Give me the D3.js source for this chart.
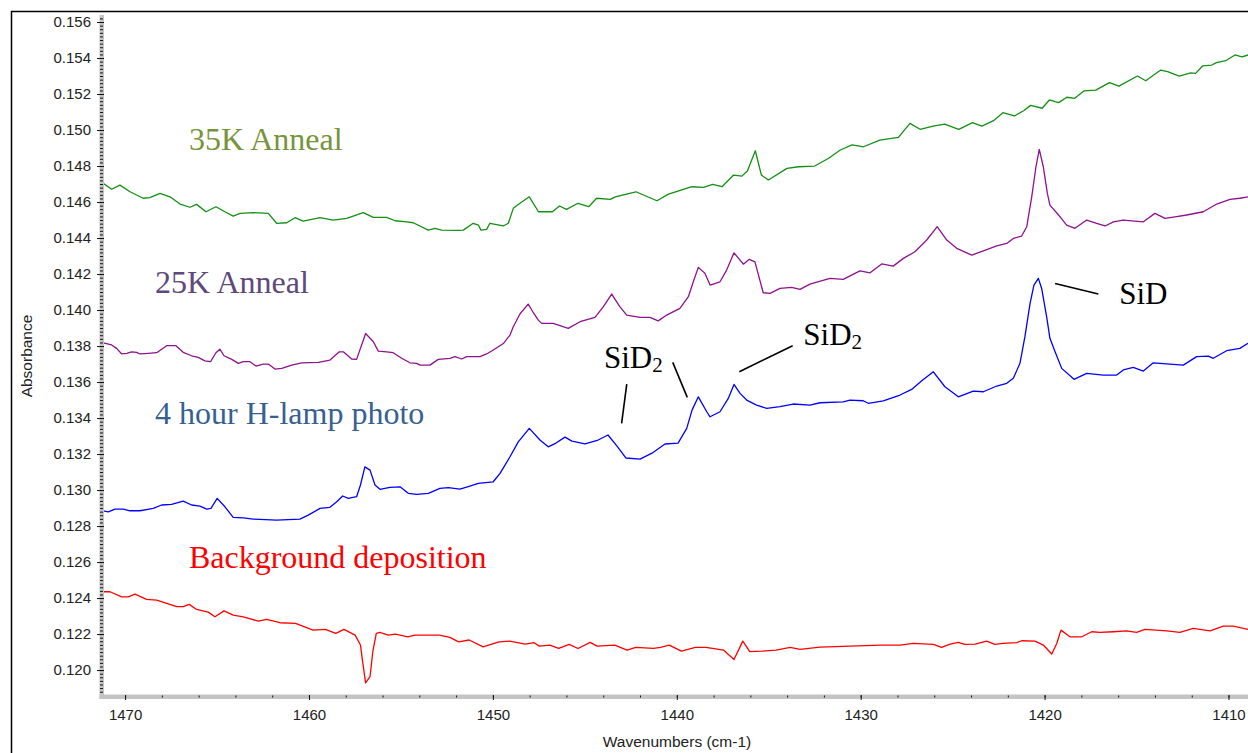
<!DOCTYPE html>
<html>
<head>
<meta charset="utf-8">
<script src="https://cdn.jsdelivr.net/npm/d3@7"></script>
<style>
  body { margin: 0; background: #fff; }
  svg { display: block; }
</style>
</head>
<body>
<div class="spectrum"></div>
<script>
// spectra: [wavenumber (cm-1), absorbance]
const anneal35K = [
  [1471.19,0.14704],[1470.73,0.14671],[1470.28,0.14694],[1469.73,0.14657],[1469.01,0.14621],[1468.65,0.14624],
  [1468.10,0.14648],[1467.56,0.14629],[1467.01,0.14589],[1466.47,0.14571],[1466.11,0.14587],[1465.60,0.14546],
  [1465.06,0.14574],[1464.57,0.14546],[1464.12,0.14522],[1463.75,0.14537],[1463.03,0.14541],[1462.21,0.14537],
  [1461.76,0.14482],[1461.21,0.14485],[1460.76,0.14513],[1460.31,0.14494],[1459.40,0.14513],[1458.68,0.14500],
  [1457.95,0.14509],[1457.05,0.14541],[1456.50,0.14515],[1455.78,0.14515],[1455.32,0.14496],[1454.69,0.14490],
  [1454.33,0.14485],[1453.51,0.14444],[1453.15,0.14454],[1452.78,0.14444],[1451.88,0.14443],[1451.61,0.14444],
  [1451.07,0.14482],[1450.79,0.14472],[1450.65,0.14444],[1450.34,0.14448],[1450.16,0.14482],[1449.43,0.14467],
  [1449.16,0.14482],[1448.89,0.14565],[1448.53,0.14593],[1448.02,0.14629],[1447.52,0.14546],[1446.76,0.14546],
  [1446.38,0.14578],[1446.00,0.14559],[1445.37,0.14593],[1444.79,0.14574],[1444.36,0.14621],[1443.61,0.14615],
  [1443.35,0.14629],[1442.22,0.14657],[1441.08,0.14607],[1440.45,0.14644],[1439.18,0.14685],[1438.55,0.14682],
  [1438.05,0.14698],[1437.54,0.14685],[1436.91,0.14750],[1436.46,0.14744],[1436.16,0.14772],[1435.73,0.14885],
  [1435.40,0.14750],[1435.02,0.14722],[1434.01,0.14787],[1433.38,0.14796],[1432.50,0.14800],[1431.74,0.14843],
  [1431.11,0.14889],[1430.47,0.14917],[1429.85,0.14907],[1428.96,0.14944],[1427.95,0.14959],[1427.32,0.15037],
  [1426.77,0.15004],[1426.06,0.15022],[1425.43,0.15033],[1424.67,0.15004],[1423.92,0.15041],[1423.41,0.15022],
  [1422.78,0.15052],[1422.27,0.15096],[1421.64,0.15078],[1421.14,0.15107],[1420.76,0.15137],[1420.13,0.15121],
  [1419.74,0.15167],[1419.24,0.15152],[1418.79,0.15182],[1418.36,0.15176],[1417.85,0.15218],[1417.22,0.15222],
  [1416.47,0.15263],[1415.96,0.15244],[1414.95,0.15300],[1414.50,0.15274],[1413.69,0.15333],[1413.31,0.15324],
  [1412.68,0.15300],[1412.05,0.15318],[1411.79,0.15315],[1411.41,0.15356],[1410.91,0.15361],[1410.66,0.15374],
  [1410.15,0.15385],[1409.65,0.15417],[1409.27,0.15407],[1408.94,0.15417]
]

const anneal25K = [
  [1471.19,0.13818],[1470.73,0.13806],[1470.46,0.13787],[1470.18,0.13756],[1469.91,0.13759],[1469.64,0.13768],
  [1469.37,0.13765],[1469.19,0.13756],[1468.74,0.13759],[1468.28,0.13763],[1467.74,0.13802],[1467.23,0.13802],
  [1466.84,0.13765],[1466.38,0.13746],[1466.02,0.13737],[1465.66,0.13718],[1465.35,0.13713],[1465.06,0.13763],
  [1464.84,0.13782],[1464.62,0.13746],[1464.20,0.13726],[1463.84,0.13704],[1463.57,0.13713],[1463.21,0.13713],
  [1462.88,0.13689],[1462.49,0.13700],[1462.21,0.13700],[1461.85,0.13672],[1461.48,0.13676],[1460.94,0.13694],
  [1460.40,0.13707],[1459.49,0.13709],[1458.86,0.13722],[1458.35,0.13768],[1458.13,0.13768],[1457.68,0.13728],
  [1457.41,0.13726],[1456.92,0.13870],[1456.50,0.13824],[1456.23,0.13772],[1455.78,0.13768],[1455.42,0.13763],
  [1454.96,0.13732],[1454.51,0.13707],[1454.14,0.13704],[1453.96,0.13694],[1453.42,0.13694],[1452.97,0.13726],
  [1452.33,0.13732],[1452.06,0.13741],[1451.70,0.13728],[1451.42,0.13741],[1450.70,0.13741],[1450.34,0.13756],
  [1449.98,0.13778],[1449.43,0.13814],[1449.07,0.13861],[1448.89,0.13907],[1448.53,0.13978],[1448.08,0.14033],
  [1447.82,0.13989],[1447.53,0.13944],[1447.35,0.13926],[1446.72,0.13926],[1445.90,0.13898],[1445.26,0.13935],
  [1444.45,0.13959],[1444.00,0.14018],[1443.54,0.14089],[1443.09,0.14018],[1442.72,0.13972],[1442.00,0.13959],
  [1441.46,0.13959],[1441.01,0.13940],[1440.55,0.13972],[1439.83,0.14009],[1439.37,0.14074],[1439.07,0.14167],
  [1438.83,0.14237],[1438.47,0.14204],[1438.19,0.14139],[1437.65,0.14157],[1437.29,0.14222],[1436.89,0.14318],
  [1436.38,0.14255],[1436.06,0.14282],[1435.75,0.14268],[1435.30,0.14096],[1434.93,0.14093],[1434.39,0.14120],
  [1433.75,0.14126],[1433.30,0.14115],[1432.76,0.14144],[1431.67,0.14176],[1430.95,0.14170],[1430.04,0.14218],
  [1429.49,0.14207],[1428.86,0.14256],[1428.23,0.14244],[1427.68,0.14287],[1427.05,0.14324],[1426.41,0.14389],
  [1425.84,0.14463],[1425.32,0.14389],[1424.78,0.14343],[1423.96,0.14305],[1423.33,0.14329],[1422.60,0.14356],
  [1422.06,0.14370],[1421.70,0.14398],[1421.25,0.14411],[1420.97,0.14463],[1420.70,0.14629],[1420.47,0.14796],
  [1420.29,0.14893],[1420.07,0.14796],[1419.85,0.14648],[1419.71,0.14583],[1419.16,0.14518],[1418.80,0.14472],
  [1418.35,0.14454],[1417.71,0.14500],[1417.17,0.14482],[1416.71,0.14467],[1416.26,0.14490],[1415.72,0.14500],
  [1414.63,0.14490],[1414.00,0.14537],[1413.45,0.14509],[1412.91,0.14518],[1412.27,0.14528],[1411.37,0.14546],
  [1410.64,0.14589],[1409.92,0.14615],[1409.38,0.14621],[1408.94,0.14629]
]

const hLampPhoto = [
  [1471.19,0.12885],[1470.91,0.12879],[1470.55,0.12894],[1470.10,0.12894],[1469.73,0.12885],[1469.19,0.12885],
  [1468.47,0.12898],[1468.01,0.12917],[1467.47,0.12920],[1466.84,0.12939],[1466.38,0.12917],[1465.93,0.12911],
  [1465.56,0.12894],[1465.33,0.12898],[1464.99,0.12954],[1464.57,0.12907],[1464.12,0.12848],[1463.57,0.12846],
  [1463.03,0.12839],[1461.76,0.12833],[1460.49,0.12839],[1460.04,0.12861],[1459.40,0.12898],[1458.86,0.12904],
  [1458.49,0.12935],[1458.17,0.12967],[1457.86,0.12954],[1457.41,0.12963],[1457.20,0.13028],[1456.96,0.13129],
  [1456.68,0.13111],[1456.41,0.13028],[1456.14,0.13004],[1455.60,0.13015],[1455.05,0.13018],[1454.60,0.12982],
  [1454.14,0.12976],[1453.51,0.12982],[1452.88,0.13009],[1452.42,0.13013],[1451.79,0.13005],[1451.25,0.13022],
  [1450.79,0.13037],[1449.98,0.13046],[1449.61,0.13093],[1449.07,0.13185],[1448.62,0.13268],[1448.02,0.13343],
  [1447.44,0.13278],[1446.99,0.13240],[1446.57,0.13261],[1446.08,0.13294],[1445.70,0.13272],[1444.99,0.13256],
  [1444.28,0.13278],[1443.74,0.13306],[1443.25,0.13244],[1442.76,0.13178],[1442.00,0.13172],[1441.35,0.13205],
  [1440.64,0.13256],[1439.93,0.13261],[1439.46,0.13343],[1439.17,0.13444],[1438.83,0.13518],[1438.37,0.13435],
  [1438.19,0.13407],[1437.65,0.13435],[1437.20,0.13509],[1436.89,0.13587],[1436.56,0.13537],[1436.20,0.13500],
  [1435.66,0.13472],[1435.11,0.13454],[1434.39,0.13463],[1433.67,0.13478],[1432.76,0.13472],[1432.21,0.13485],
  [1430.95,0.13490],[1430.58,0.13500],[1429.86,0.13496],[1429.59,0.13482],[1428.77,0.13496],[1427.86,0.13528],
  [1427.23,0.13559],[1426.68,0.13607],[1426.05,0.13657],[1425.42,0.13574],[1424.69,0.13518],[1423.88,0.13550],
  [1423.33,0.13546],[1422.60,0.13578],[1422.06,0.13593],[1421.70,0.13621],[1421.34,0.13704],[1421.07,0.13852],
  [1420.79,0.14037],[1420.58,0.14139],[1420.34,0.14176],[1420.16,0.14120],[1419.89,0.13963],[1419.71,0.13843],
  [1419.43,0.13768],[1419.07,0.13676],[1418.40,0.13615],[1417.71,0.13648],[1416.81,0.13639],[1416.08,0.13639],
  [1415.72,0.13667],[1415.18,0.13682],[1414.63,0.13661],[1414.09,0.13707],[1413.18,0.13700],[1412.46,0.13694],
  [1411.73,0.13741],[1411.10,0.13744],[1410.83,0.13732],[1410.10,0.13774],[1409.38,0.13787],[1408.94,0.13815]
]

const background = [
  [1471.20,0.12435],[1470.82,0.12435],[1470.18,0.12407],[1469.83,0.12407],[1469.46,0.12422],[1468.83,0.12393],
  [1468.28,0.12389],[1467.74,0.12370],[1467.19,0.12352],[1466.84,0.12352],[1466.51,0.12365],[1466.11,0.12337],
  [1465.48,0.12322],[1465.11,0.12296],[1464.62,0.12329],[1464.12,0.12305],[1463.57,0.12296],[1462.76,0.12272],
  [1462.30,0.12282],[1461.58,0.12263],[1460.73,0.12259],[1459.78,0.12222],[1459.11,0.12226],[1458.54,0.12204],
  [1458.10,0.12226],[1457.49,0.12194],[1457.20,0.12139],[1457.07,0.12037],[1456.92,0.11929],[1456.68,0.11963],
  [1456.53,0.12102],[1456.34,0.12204],[1456.15,0.12209],[1455.68,0.12194],[1455.29,0.12200],[1454.63,0.12185],
  [1454.24,0.12194],[1452.91,0.12194],[1452.34,0.12182],[1451.86,0.12157],[1451.29,0.12167],[1450.53,0.12129],
  [1449.67,0.12157],[1449.09,0.12161],[1448.24,0.12144],[1447.76,0.12152],[1447.47,0.12133],[1446.90,0.12139],
  [1446.42,0.12120],[1445.85,0.12143],[1445.37,0.12120],[1444.71,0.12154],[1444.33,0.12133],[1443.37,0.12139],
  [1442.70,0.12111],[1442.23,0.12126],[1441.27,0.12120],[1440.89,0.12126],[1440.41,0.12139],[1439.75,0.12105],
  [1438.98,0.12126],[1438.41,0.12126],[1437.46,0.12111],[1436.89,0.12059],[1436.41,0.12161],[1436.03,0.12102],
  [1435.36,0.12105],[1434.60,0.12111],[1433.83,0.12126],[1433.30,0.12115],[1432.21,0.12128],[1430.58,0.12133],
  [1428.95,0.12139],[1427.86,0.12139],[1427.14,0.12148],[1426.05,0.12143],[1425.60,0.12126],[1425.14,0.12144],
  [1424.69,0.12154],[1424.33,0.12143],[1423.78,0.12144],[1423.15,0.12161],[1422.70,0.12143],[1422.25,0.12148],
  [1421.52,0.12152],[1421.25,0.12163],[1420.52,0.12161],[1420.07,0.12139],[1419.61,0.12089],[1419.34,0.12148],
  [1419.11,0.12222],[1418.62,0.12185],[1417.98,0.12185],[1417.44,0.12213],[1416.99,0.12209],[1416.26,0.12213],
  [1415.54,0.12218],[1415.00,0.12209],[1414.54,0.12226],[1413.36,0.12218],[1412.64,0.12209],[1411.92,0.12232],
  [1411.00,0.12218],[1410.28,0.12244],[1409.74,0.12244],[1408.94,0.12226]
]

const yTickLabels = ['0.120','0.122','0.124','0.126','0.128','0.130','0.132','0.134','0.136','0.138',
  '0.140','0.142','0.144','0.146','0.148','0.150','0.152','0.154','0.156']
const xTickLabels = ['1470','1460','1450','1440','1430','1420','1410']

const seriesNames = ['35K Anneal', '25K Anneal', '4 hour H-lamp photo', 'Background deposition']

// where things sit, in data units
const nameAnchors = [[1466.53, 0.14889], [1468.37, 0.14094], [1468.37, 0.13367], [1466.53, 0.12567]]
const peakNotes = [
  {main: 'SiD', sub: '2', at: [1443.96, 0.13678]},
  {main: 'SiD', sub: '2', at: [1433.12, 0.13806]},
  {main: 'SiD', sub: '', at: [1415.94, 0.14033]}
]
const leaders = [
  [[1442.72, 0.13589], [1443.00, 0.13371]],
  [[1440.22, 0.13709], [1439.43, 0.13515]],
  [[1436.60, 0.13657], [1433.70, 0.13802]],
  [[1419.43, 0.14148], [1417.08, 0.14089]]
]

const lineColors = ['#138f13', '#8e128e', '#0000ff', '#ff0000']
const nameColors = ['#77933c', '#5f497a', '#376092', '#ff0000']

let width = 1248
let height = 753
let plot = {left: 103, right: 1248, top: 15, bottom: 696}

let x = d3.scaleLinear()
  .domain([1471.2, 1408.94])
  .range([plot.left, plot.right])

let y = d3.scaleLinear()
  .domain([0.11856, 0.15639])
  .range([plot.bottom, plot.top])

const svg = d3.select('.spectrum').append('svg')
  .attr('width', width)
  .attr('height', height)
  .attr('viewBox', [0, 0, width, height])

// outer frame
svg.append('rect')
  .attr('x', 11.5).attr('y', 11.5)
  .attr('width', 1300).attr('height', 800)
  .attr('fill', 'none')
  .attr('stroke', '#000')
  .attr('stroke-width', 1.5)

svg.append('clipPath').attr('id', 'plotclip')
  .append('rect')
  .attr('x', plot.left).attr('y', plot.top)
  .attr('width', plot.right - plot.left).attr('height', plot.bottom - plot.top - 1)

let line = d3.line()
  .x(d => x(d[0]))
  .y(d => y(d[1]))

svg.append('g')
    .attr('clip-path', 'url(#plotclip)')
    .attr('fill', 'none')
    .attr('stroke-width', 1.3)
    .attr('stroke-linejoin', 'round')
  .selectAll('path')
  .data([anneal35K, anneal25K, hLampPhoto, background])
  .join('path')
    .attr('stroke', (d, i) => lineColors[i])
    .attr('d', line)

// grey axis bars
svg.append('rect')
  .attr('x', 99.5).attr('y', plot.top)
  .attr('width', 4.5).attr('height', plot.bottom + 3 - plot.top)
  .attr('fill', '#c4c4c4')
svg.append('rect')
  .attr('x', 99.5).attr('y', 694.5)
  .attr('width', width).attr('height', 4.5)
  .attr('fill', '#c4c4c4')

// y axis
let yMinor = d3.range(0.1188, 0.15639, 0.0002)
svg.append('g')
    .attr('transform', `translate(103,0)`)
    .call(d3.axisLeft(y).tickValues(yMinor).tickSize(3).tickFormat(''))
    .call(g => g.select('.domain').remove())
    .call(g => g.selectAll('line').attr('stroke', '#111'))

svg.append('g')
    .attr('transform', `translate(104,0)`)
    .call(d3.axisLeft(y).tickValues(yTickLabels.map(Number)).tickSize(7).tickPadding(6)
      .tickFormat((d, i) => yTickLabels[i]))
    .call(g => g.select('.domain').remove())
    .call(g => g.selectAll('line').attr('stroke', '#111'))
    .call(g => g.selectAll('text')
      .attr('font-family', 'Liberation Sans, Arial, sans-serif')
      .attr('font-size', 15)
      .attr('fill', '#222'))

// x axis
let xMinor = d3.range(1470, 1408.9, -2)
svg.append('g')
    .attr('transform', `translate(0,695.5)`)
    .call(d3.axisBottom(x).tickValues(xMinor).tickSize(2).tickFormat(''))
    .call(g => g.select('.domain').remove())
    .call(g => g.selectAll('line').attr('stroke', '#111'))

svg.append('g')
    .attr('transform', `translate(0,695)`)
    .call(d3.axisBottom(x).tickValues(xTickLabels.map(Number)).tickSize(5).tickPadding(9)
      .tickFormat((d, i) => xTickLabels[i]))
    .call(g => g.select('.domain').remove())
    .call(g => g.selectAll('line').attr('stroke', '#111'))
    .call(g => g.selectAll('text')
      .attr('font-family', 'Liberation Sans, Arial, sans-serif')
      .attr('font-size', 15)
      .attr('fill', '#222'))

// axis titles
svg.append('text')
  .attr('x', 677).attr('y', 747)
  .attr('text-anchor', 'middle')
  .attr('font-family', 'Liberation Sans, Arial, sans-serif')
  .attr('font-size', 15.5)
  .attr('fill', '#222')
  .text('Wavenumbers (cm-1)')

svg.append('text')
  .attr('transform', 'translate(32,356) rotate(-90)')
  .attr('text-anchor', 'middle')
  .attr('font-family', 'Liberation Sans, Arial, sans-serif')
  .attr('font-size', 15.5)
  .attr('fill', '#222')
  .text('Absorbance')

// series names
svg.append('g')
    .attr('font-family', 'Liberation Serif, Times New Roman, serif')
    .attr('font-size', 32)
  .selectAll('text')
  .data(seriesNames)
  .join('text')
    .attr('x', (d, i) => x(nameAnchors[i][0]))
    .attr('y', (d, i) => y(nameAnchors[i][1]))
    .attr('fill', (d, i) => nameColors[i])
    .text(d => d)

// peak assignments
let notes = svg.append('g')
    .attr('font-family', 'Liberation Serif, Times New Roman, serif')
    .attr('font-size', 31)
    .attr('fill', '#000')
  .selectAll('text')
  .data(peakNotes)
  .join('text')
    .attr('x', d => x(d.at[0]))
    .attr('y', d => y(d.at[1]))
notes.append('tspan').text(d => d.main)
notes.append('tspan')
    .attr('font-size', 21)
    .attr('dy', 4)
    .text(d => d.sub)

svg.append('g')
    .attr('stroke', '#000')
    .attr('stroke-width', 1.6)
  .selectAll('line')
  .data(leaders)
  .join('line')
    .attr('x1', d => x(d[0][0]))
    .attr('y1', d => y(d[0][1]))
    .attr('x2', d => x(d[1][0]))
    .attr('y2', d => y(d[1][1]))

svg.node()
</script>
</body>
</html>
